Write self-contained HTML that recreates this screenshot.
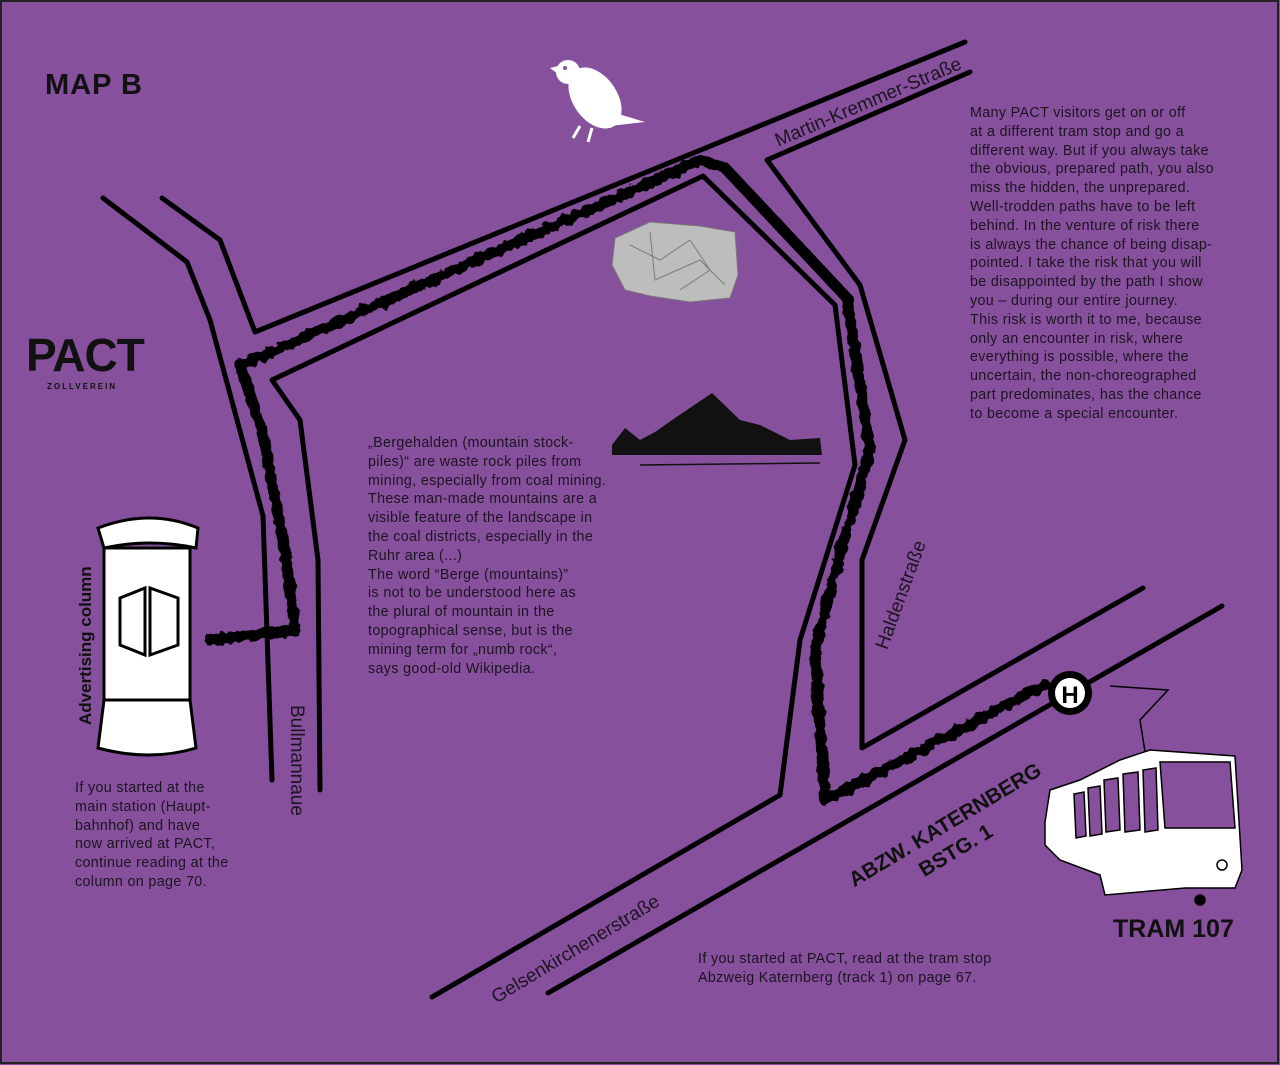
<!DOCTYPE html>
<html><head><meta charset="utf-8"><style>
html,body{margin:0;padding:0;}
body{width:1280px;height:1065px;background:#86509c;position:relative;overflow:hidden;font-family:"Liberation Sans",sans-serif;color:#1c1420;}
.p{position:absolute;font-size:14.3px;line-height:18.8px;white-space:nowrap;letter-spacing:0.35px;}
.b{position:absolute;font-weight:bold;white-space:nowrap;color:#111;}
.r{position:absolute;white-space:nowrap;font-size:19px;color:#1c1420;transform-origin:0 0;}
</style></head><body>
<svg width="1280" height="1065" style="position:absolute;left:0;top:0">
<defs>
<filter id="rough"><feTurbulence type="fractalNoise" baseFrequency="0.12" numOctaves="2" seed="3"/><feDisplacementMap in="SourceGraphic" scale="7"/></filter>
</defs>
<rect x="1" y="1" width="1277" height="1062" fill="none" stroke="#222" stroke-width="2"/>
<g fill="none" stroke="#000" stroke-width="5" stroke-linecap="round" stroke-linejoin="round">
<polyline points="103,198 187,262 210,320 263,516 272,780"/>
<polyline points="162,198 220,240 255,332 965,42"/>
<polyline points="320,790 318,560 300,420 272,380 703,176 835,305 855,465 800,640 780,795 432,997"/>
<polyline points="970,72 767,160 860,285 905,440 862,560 862,748 1143,588"/>
<polyline points="548,993 1222,606"/>
</g>
<g filter="url(#rough)" fill="none" stroke="#000" stroke-width="11" stroke-linejoin="round" stroke-linecap="round">
<polyline points="210,640 295,630 285,550 262,430 240,365 265,355 700,160 725,168 847,298 870,450 838,560 815,650 825,800 1045,685"/>
</g>
<!-- bird -->
<g fill="#fff">
<ellipse cx="595" cy="98" rx="22" ry="34" transform="rotate(-35 595 98)"/>
<circle cx="568" cy="72" r="12"/>
<polygon points="558,66 550,68 558,74"/>
<polygon points="605,110 645,122 610,126"/>
<path d="M580 126 L573 138 M592 128 L588 142" stroke="#fff" stroke-width="3"/>
</g>
<circle cx="565" cy="68" r="2" fill="#86509c"/>
<!-- rock -->
<path d="M615 238 L650 222 L700 226 L735 232 L738 275 L730 298 L690 302 L650 296 L625 290 L612 265Z" fill="#bdbdbd" stroke="#777"/>
<path d="M630 245 L660 260 L690 240 L710 270 L680 290 M650 232 L655 280 L700 260 L725 285" stroke="#7a7a7a" fill="none"/>
<!-- mountain -->
<path d="M612 445 L625 428 L640 440 L655 432 L675 418 L712 393 L740 420 L760 425 L790 440 L820 438 L822 455 L612 455Z" fill="#111"/>
<path d="M640 465 L820 463" stroke="#111" stroke-width="1.5"/>
<!-- column -->
<g stroke="#000" stroke-width="3" fill="#fff">
<path d="M98 528 Q150 508 198 528 L196 548 Q150 538 104 548Z"/>
<path d="M104 548 L104 700 L98 748 Q150 762 196 748 L190 700 L190 548Z"/>
<line x1="104" y1="700" x2="190" y2="700"/>
<path d="M120 598 L145 588 L145 655 L120 645Z M150 588 L178 598 L178 645 L150 655Z"/>
</g>
<!-- bus stop -->
<circle cx="1070" cy="693" r="22" fill="#000"/>
<circle cx="1070" cy="693" r="16" fill="#fff" stroke="#000" stroke-width="2"/>
<text x="1070" y="703" text-anchor="middle" font-family="Liberation Sans" font-weight="bold" font-size="24">H</text>
<!-- tram -->
<g stroke="#000" stroke-width="1.5" fill="#fff">
<polyline points="1110,686 1168,690 1140,720 1145,752" fill="none"/>
<path d="M1045 822 L1050 790 L1080 780 L1120 760 L1150 750 L1235 756 L1242 870 L1235 888 L1185 888 L1105 895 L1100 875 L1060 860 L1045 845Z"/>
<path d="M1160 762 L1230 762 L1235 828 L1165 828Z" fill="#86509c"/>
<path d="M1104 780 L1118 778 L1120 830 L1106 832Z M1123 774 L1138 772 L1140 830 L1125 832Z M1143 770 L1156 768 L1158 830 L1145 832Z M1088 788 L1100 786 L1102 834 L1090 836Z M1074 794 L1084 792 L1086 836 L1076 838Z" fill="#86509c"/>
<circle cx="1222" cy="865" r="5"/><circle cx="1200" cy="900" r="5" fill="#000"/>
</g>
</svg>
<div class="b" style="left:45px;top:69px;font-size:29px;letter-spacing:1px;">MAP B</div>
<div class="b" style="left:26px;top:328px;font-size:46px;letter-spacing:-1px;">PACT</div>
<div class="b" style="left:47px;top:382px;font-size:8px;letter-spacing:2px;">ZOLLVEREIN</div>
<div class="b" style="left:76px;top:725px;font-size:17px;transform:rotate(-90deg);transform-origin:0 0;">Advertising column</div>
<div class="b" style="left:1113px;top:915px;font-size:25px;">TRAM 107</div>
<div class="b" style="left:845px;top:872px;font-size:21px;transform:rotate(-31deg);transform-origin:0 0;">ABZW. KATERNBERG</div>
<div class="b" style="left:915px;top:862px;font-size:21px;transform:rotate(-31deg);transform-origin:0 0;">BSTG. 1</div>
<div class="r" style="left:772px;top:132px;transform:rotate(-23deg);">Martin-Kremmer-Straße</div>
<div class="r" style="left:872px;top:645px;transform:rotate(-70deg);">Haldenstraße</div>
<div class="r" style="left:307px;top:705px;transform:rotate(90deg);">Bullmannaue</div>
<div class="r" style="left:488px;top:990px;transform:rotate(-31deg);">Gelsenkirchenerstraße</div>
<div class="p" style="left:970px;top:104px;">Many PACT visitors get on or off<br>at a different tram stop and go a<br>different way. But if you always take<br>the obvious, prepared path, you also<br>miss the hidden, the unprepared.<br>Well-trodden paths have to be left<br>behind. In the venture of risk there<br>is always the chance of being disap-<br>pointed. I take the risk that you will<br>be disappointed by the path I show<br>you – during our entire journey.<br>This risk is worth it to me, because<br>only an encounter in risk, where<br>everything is possible, where the<br>uncertain, the non-choreographed<br>part predominates, has the chance<br>to become a special encounter.</div>
<div class="p" style="left:368px;top:434px;">„Bergehalden (mountain stock-<br>piles)“ are waste rock piles from<br>mining, especially from coal mining.<br>These man-made mountains are a<br>visible feature of the landscape in<br>the coal districts, especially in the<br>Ruhr area (...)<br>The word “Berge (mountains)”<br>is not to be understood here as<br>the plural of mountain in the<br>topographical sense, but is the<br>mining term for „numb rock“,<br>says good-old Wikipedia.</div>
<div class="p" style="left:75px;top:779px;">If you started at the<br>main station (Haupt-<br>bahnhof) and have<br>now arrived at PACT,<br>continue reading at the<br>column on page 70.</div>
<div class="p" style="left:698px;top:950px;">If you started at PACT, read at the tram stop<br>Abzweig Katernberg (track 1) on page 67.</div>
</body></html>
